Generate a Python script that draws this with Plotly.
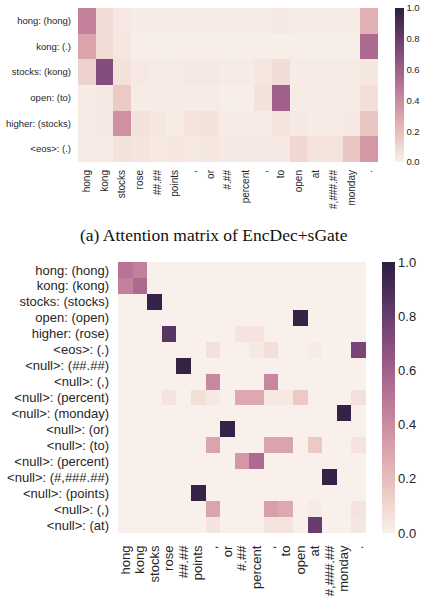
import numpy as np
import plotly.graph_objects as go

# ---------------- data ----------------
src_tokens = ["hong", "kong", "stocks", "rose", "##.##", "points", ",", "or", "#.##",
              "percent", ",", "to", "open", "at", "#,###.##", "monday", "."]

top_rows = ["hong: (hong)", "kong: (.)", "stocks: (kong)", "open: (to)",
            "higher: (stocks)", "<eos>: (.)"]
top_vals = [
    [0.45, 0.08, 0.03, 0.02, 0.02, 0.02, 0.02, 0.02, 0.02, 0.02, 0.02, 0.03, 0.02, 0.02, 0.02, 0.02, 0.25],
    [0.30, 0.08, 0.04, 0.01, 0.01, 0.01, 0.01, 0.01, 0.01, 0.01, 0.01, 0.01, 0.01, 0.01, 0.01, 0.01, 0.55],
    [0.12, 0.70, 0.06, 0.03, 0.02, 0.02, 0.03, 0.03, 0.02, 0.02, 0.04, 0.08, 0.02, 0.02, 0.02, 0.02, 0.04],
    [0.02, 0.03, 0.15, 0.02, 0.02, 0.02, 0.02, 0.02, 0.01, 0.01, 0.06, 0.60, 0.02, 0.02, 0.02, 0.02, 0.07],
    [0.02, 0.03, 0.38, 0.06, 0.04, 0.02, 0.05, 0.06, 0.02, 0.02, 0.02, 0.05, 0.03, 0.02, 0.02, 0.03, 0.17],
    [0.02, 0.02, 0.06, 0.05, 0.03, 0.04, 0.03, 0.04, 0.03, 0.03, 0.03, 0.03, 0.10, 0.05, 0.05, 0.17, 0.35],
]

bot_rows = ["hong: (hong)", "kong: (kong)", "stocks: (stocks)", "open: (open)",
            "higher: (rose)", "<eos>: (.)", "<null>: (##.##)", "<null>: (,)",
            "<null>: (percent)", "<null>: (monday)", "<null>: (or)", "<null>: (to)",
            "<null>: (percent)", "<null>: (#,###.##)", "<null>: (points)",
            "<null>: (,)", "<null>: (at)"]
bot_vals = [
    [0.50, 0.45, 0, 0, 0, 0, 0, 0, 0, 0, 0, 0, 0, 0, 0, 0, 0],
    [0.45, 0.55, 0, 0, 0, 0, 0, 0, 0, 0, 0, 0, 0, 0, 0, 0, 0],
    [0, 0, 0.97, 0, 0, 0, 0, 0, 0, 0, 0, 0, 0, 0, 0, 0, 0],
    [0, 0, 0, 0, 0, 0, 0, 0, 0, 0, 0, 0, 0.97, 0, 0, 0, 0],
    [0, 0, 0, 0.85, 0, 0, 0, 0, 0.05, 0.05, 0, 0, 0, 0, 0, 0, 0],
    [0, 0, 0, 0, 0, 0, 0.06, 0, 0, 0.03, 0.07, 0, 0, 0.02, 0, 0, 0.75],
    [0, 0, 0, 0, 0.97, 0, 0, 0, 0, 0, 0, 0, 0, 0, 0, 0, 0],
    [0, 0, 0, 0, 0, 0, 0.42, 0, 0, 0, 0.42, 0, 0, 0, 0, 0, 0],
    [0, 0, 0, 0.05, 0, 0.07, 0.03, 0, 0.28, 0.28, 0.03, 0.03, 0.15, 0, 0, 0, 0.06],
    [0, 0, 0, 0, 0, 0, 0, 0, 0, 0, 0, 0, 0, 0, 0, 0.97, 0],
    [0, 0, 0, 0, 0, 0, 0, 0.97, 0, 0, 0, 0, 0, 0, 0, 0, 0],
    [0, 0, 0, 0, 0, 0, 0.30, 0, 0, 0, 0.30, 0.30, 0, 0.15, 0, 0, 0.05],
    [0, 0, 0, 0, 0, 0, 0, 0, 0.35, 0.55, 0, 0, 0, 0, 0, 0, 0],
    [0, 0, 0, 0, 0, 0, 0, 0, 0, 0, 0, 0, 0, 0, 0.97, 0, 0],
    [0, 0, 0, 0, 0, 0.97, 0, 0, 0, 0, 0, 0, 0, 0, 0, 0, 0],
    [0, 0, 0, 0, 0, 0, 0.30, 0, 0, 0, 0.32, 0.28, 0, 0.02, 0, 0, 0.05],
    [0, 0, 0, 0, 0, 0, 0.05, 0, 0, 0, 0.05, 0.05, 0, 0.80, 0, 0, 0.04],
]
cbar_ticks = [0.0, 0.2, 0.4, 0.6, 0.8, 1.0]
caption = "(a) Attention matrix of EncDec+sGate"


# ---------------- colour map (seaborn-like cubehelix) ----------------
def cubehelix_scale(n=21, start=0.0, rot=0.4, gamma=1.0, hue=0.8, light=0.95, dark=0.15):
    coefs = [(-0.14861, 1.78277), (-0.29227, -0.90649), (1.97294, 0.0)]
    scale = []
    for i, x in enumerate(np.linspace(light, dark, n)):
        xg = x ** gamma
        a = hue * xg * (1 - xg) / 2
        phi = 2 * np.pi * (start / 3 + rot * x)
        rgb = [min(max(xg + a * (p0 * np.cos(phi) + p1 * np.sin(phi)), 0), 1) for p0, p1 in coefs]
        scale.append([i / (n - 1), "rgb(%d,%d,%d)" % tuple(round(c * 255) for c in rgb)])
    return scale


cs = cubehelix_scale()
W, H = 433, 597
FONT = "Liberation Sans, Arial, sans-serif"
TXT = "#262626"


def px_x(a, b):
    return [a / W, b / W]


def px_y(top, bottom):
    return [1 - bottom / H, 1 - top / H]


fig = go.Figure()

fig.add_trace(go.Heatmap(
    z=top_vals, x=list(range(len(src_tokens))), y=list(range(len(top_rows))),
    colorscale=cs, zmin=0, zmax=1, xaxis="x", yaxis="y",
    colorbar=dict(x=395 / W, xanchor="left", xpad=0, y=1 - 8 / H, yanchor="top", ypad=0,
                  len=154, lenmode="pixels", thickness=9, thicknessmode="pixels",
                  outlinewidth=0, ticks="", tickvals=cbar_ticks,
                  ticktext=["%.1f" % t for t in cbar_ticks],
                  tickfont=dict(family=FONT, size=9.5, color=TXT)),
    hoverinfo="skip",
))

fig.add_trace(go.Heatmap(
    z=bot_vals, x=list(range(len(src_tokens))), y=list(range(len(bot_rows))),
    colorscale=cs, zmin=0, zmax=1, xaxis="x2", yaxis="y2",
    colorbar=dict(x=382 / W, xanchor="left", xpad=0, y=1 - 262 / H, yanchor="top", ypad=0,
                  len=271, lenmode="pixels", thickness=13, thicknessmode="pixels",
                  outlinewidth=0, ticks="", tickvals=cbar_ticks,
                  ticktext=["%.1f" % t for t in cbar_ticks],
                  tickfont=dict(family=FONT, size=13, color=TXT)),
    hoverinfo="skip",
))

common = dict(showgrid=False, zeroline=False, showline=False, ticks="")

fig.update_layout(
    width=W, height=H, margin=dict(l=0, r=0, t=0, b=0),
    paper_bgcolor="white", plot_bgcolor="white",
    xaxis=dict(domain=px_x(78, 378), anchor="y", range=[-0.5, 16.5],
               tickmode="array", tickvals=list(range(len(src_tokens))), ticktext=src_tokens,
               tickangle=-90, side="bottom", ticklabelstandoff=5,
               tickfont=dict(family=FONT, size=10, color=TXT), **common),
    yaxis=dict(domain=px_y(8, 162), anchor="x", range=[5.5, -0.5],
               tickmode="array", tickvals=list(range(len(top_rows))), ticktext=top_rows,
               ticklabelstandoff=6,
               tickfont=dict(family=FONT, size=9.5, color=TXT), **common),
    xaxis2=dict(domain=px_x(118, 366), anchor="y2", range=[-0.5, 16.5],
                tickmode="array", tickvals=list(range(len(src_tokens))), ticktext=src_tokens,
                tickangle=-90, side="bottom", ticklabelstandoff=9,
                tickfont=dict(family=FONT, size=13, color=TXT), **common),
    yaxis2=dict(domain=px_y(262, 533), anchor="x2", range=[16.5, -0.5],
                tickmode="array", tickvals=list(range(len(bot_rows))), ticktext=bot_rows,
                ticklabelstandoff=8,
                tickfont=dict(family=FONT, size=13, color=TXT), **common),
    annotations=[dict(text=caption, xref="paper", yref="paper", x=214 / W, y=1 - 235 / H,
                      xanchor="center", yanchor="middle", showarrow=False,
                      font=dict(family="Liberation Serif, Times New Roman, serif", size=17.5,
                                color="#111111"))],
)

fig.write_html("out.html")
